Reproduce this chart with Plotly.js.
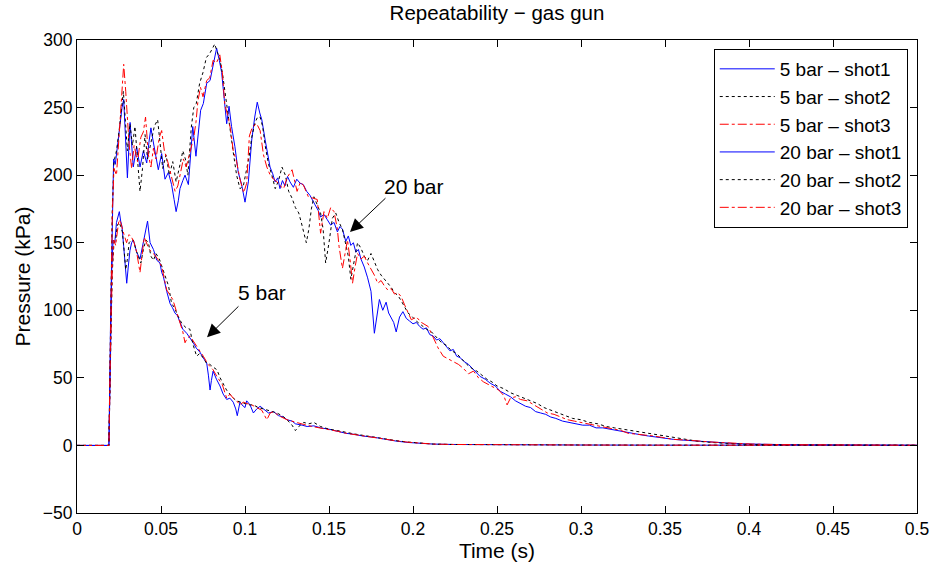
<!DOCTYPE html>
<html>
<head>
<meta charset="utf-8">
<script src="https://cdn.plot.ly/plotly-3.0.1.min.js"></script>
<style>html,body{margin:0;padding:0;background:#fff;}#chart{width:933px;height:564px;}</style>
</head>
<body>
<div id="chart"></div>
<script>
// Each series: [time (s), pressure (kPa)] points
const bar5_shot1 = [[0,0],[0.019,0],[0.020,70],[0.0207,130],[0.0215,152],[0.0225,150],[0.0235,165],[0.0245,170],[0.0252,173],[0.026,166],[0.0268,162],[0.0278,147],[0.0288,130],[0.0296,120],[0.0305,132],[0.0315,144],[0.0325,150],[0.0335,152],[0.0345,148],[0.0355,143],[0.0375,138],[0.0395,150],[0.0408,160],[0.042,166],[0.0435,150],[0.0455,145],[0.0475,137],[0.0494,135],[0.0504,128],[0.0514,125],[0.0534,114],[0.0554,105],[0.0568,102],[0.0583,98],[0.0598,96],[0.0613,91],[0.063,86],[0.0653,83],[0.067,80],[0.0692,76],[0.071,72],[0.0732,69],[0.075,65],[0.0772,61],[0.0782,52],[0.0792,41],[0.080,48],[0.081,55],[0.083,49],[0.0851,44],[0.087,38],[0.0891,34],[0.091,35],[0.093,32],[0.0945,27],[0.0954,22],[0.097,32],[0.0982,30],[0.100,28],[0.101,33],[0.103,30],[0.105,24],[0.107,27],[0.109,29],[0.111,27],[0.114,24],[0.117,25],[0.120,22],[0.123,21],[0.125,19],[0.128,18],[0.130,16],[0.134,15],[0.137,14],[0.141,14.5],[0.145,13],[0.150,12],[0.155,10.6],[0.160,9],[0.165,8.2],[0.170,7],[0.177,6],[0.184,4.4],[0.190,3.2],[0.197,2.2],[0.204,1.5],[0.212,1],[0.224,0.7],[0.240,0.5],[0.260,0.4],[0.300,0.3],[0.350,0.2],[0.400,0.2],[0.450,0.1],[0.500,0.1]];

const bar5_shot2 = [[0,0],[0.019,0],[0.020,68],[0.021,128],[0.022,150],[0.023,152],[0.024,163],[0.0252,165],[0.026,162],[0.027,158],[0.028,145],[0.029,130],[0.030,138],[0.031,150],[0.0325,152],[0.0335,152],[0.035,145],[0.0365,140],[0.038,135],[0.0395,145],[0.041,152],[0.0425,150],[0.044,140],[0.0455,137],[0.047,142],[0.049,138],[0.052,127],[0.0545,118],[0.0563,105],[0.058,102],[0.060,96],[0.0625,90],[0.065,87],[0.0672,86],[0.069,75],[0.0712,66],[0.073,68],[0.075,65],[0.077,61],[0.079,60],[0.081,58],[0.0833,56],[0.0852,50],[0.0871,45],[0.089,41],[0.091,38],[0.093,35],[0.095,33],[0.0975,32],[0.100,31],[0.1025,30],[0.105,30],[0.108,28],[0.111,27],[0.114,26],[0.117,25],[0.119,24],[0.122,22],[0.125,19],[0.128,15],[0.130,11],[0.132,14],[0.135,17],[0.138,16],[0.141,17],[0.145,14],[0.150,12],[0.155,11],[0.160,9.5],[0.165,8.5],[0.170,7.5],[0.177,6],[0.184,4.5],[0.190,3.5],[0.197,2.5],[0.204,1.6],[0.212,1],[0.224,0.7],[0.240,0.5],[0.260,0.4],[0.300,0.3],[0.350,0.2],[0.400,0.2],[0.450,0.1],[0.500,0.1]];

const bar5_shot3 = [[0,0],[0.019,0],[0.020,72],[0.021,132],[0.022,152],[0.023,148],[0.024,158],[0.025,167],[0.026,165],[0.027,160],[0.028,156],[0.0295,150],[0.031,156],[0.0325,154],[0.034,150],[0.0355,143],[0.0375,128],[0.040,154],[0.0415,150],[0.043,145],[0.0455,142],[0.048,138],[0.0505,132],[0.052,122],[0.0534,115],[0.055,112],[0.057,108],[0.059,100],[0.0613,91],[0.063,84],[0.0643,76],[0.0655,79],[0.0672,81],[0.070,76],[0.0752,66],[0.078,60],[0.081,56],[0.0833,51],[0.0865,45],[0.0891,35],[0.091,38],[0.093,35],[0.095,33],[0.097,30],[0.099,32],[0.101,31],[0.104,30],[0.107,28],[0.110,26],[0.113,19],[0.115,24],[0.117,25],[0.120,22],[0.125,19],[0.130,17],[0.135,15.5],[0.140,14],[0.145,13],[0.150,12],[0.155,10.5],[0.160,9],[0.165,8],[0.170,7],[0.177,6],[0.184,4.5],[0.190,3.4],[0.197,2.4],[0.204,1.6],[0.212,1],[0.224,0.7],[0.240,0.5],[0.260,0.4],[0.300,0.3],[0.350,0.2],[0.400,0.2],[0.450,0.1],[0.500,0.1]];

const bar20_shot1 = [[0,0],[0.019,0],[0.020,95],[0.021,180],[0.0218,212],[0.0228,208],[0.024,222],[0.0256,241],[0.0268,250],[0.0278,256],[0.029,225],[0.030,198],[0.0316,239],[0.0335,206],[0.0355,221],[0.0375,206],[0.0395,218],[0.0415,209],[0.0428,224],[0.044,235],[0.0452,226],[0.0464,218],[0.0484,204],[0.0504,216],[0.0524,197],[0.0544,202],[0.0563,193],[0.0578,182],[0.059,173],[0.0603,181],[0.0613,190],[0.063,196],[0.0643,200],[0.0663,193],[0.0678,218],[0.0689,236],[0.0708,214],[0.0722,229],[0.0736,248],[0.0752,253],[0.0762,262],[0.0772,268],[0.0792,270],[0.0811,283],[0.0831,294],[0.0847,285],[0.0861,276],[0.0875,258],[0.0891,238],[0.0905,251],[0.092,236],[0.094,221],[0.096,202],[0.098,193],[0.100,180],[0.102,195],[0.104,226],[0.1058,243],[0.1073,254],[0.1088,246],[0.110,241],[0.112,226],[0.1149,206],[0.1165,201],[0.1179,195],[0.1195,198],[0.1208,190],[0.1223,196],[0.1238,192],[0.1253,199],[0.1268,195],[0.1288,191],[0.1308,197],[0.1328,194],[0.1347,193],[0.1367,188],[0.1387,185],[0.1417,178],[0.1435,174],[0.145,169],[0.147,171],[0.149,167],[0.151,163],[0.153,165],[0.155,158],[0.1565,162],[0.158,160],[0.160,151],[0.1615,155],[0.163,148],[0.1645,150],[0.166,143],[0.1675,145],[0.169,138],[0.171,132],[0.173,124],[0.175,114],[0.177,83],[0.1785,96],[0.180,108],[0.182,100],[0.184,106],[0.1855,98],[0.187,95],[0.1885,91],[0.190,84],[0.192,95],[0.194,99],[0.196,94],[0.198,92],[0.200,90],[0.202,91],[0.204,88],[0.206,86],[0.208,87],[0.210,82],[0.212,81],[0.214,78],[0.216,79],[0.218,76],[0.220,73],[0.222,70],[0.224,71],[0.226,66],[0.228,65],[0.2305,62],[0.233,60],[0.2355,57],[0.238,54],[0.240,51],[0.243,49],[0.246,46],[0.249,44],[0.252,40],[0.255,38],[0.258,36],[0.261,33],[0.264,31],[0.267,29],[0.270,28],[0.273,25],[0.276,24],[0.279,23],[0.282,21],[0.285,20],[0.289,18],[0.293,17],[0.297,16],[0.301,15],[0.305,15],[0.309,13],[0.313,13],[0.317,12],[0.321,11],[0.325,10],[0.330,9],[0.335,8],[0.340,7],[0.345,6],[0.350,5],[0.355,4.5],[0.360,4],[0.365,3.5],[0.370,3],[0.375,2.5],[0.380,2],[0.385,1.8],[0.390,1.5],[0.395,1.2],[0.400,1],[0.410,0.8],[0.420,0.6],[0.430,0.5],[0.440,0.4],[0.450,0.3],[0.460,0.3],[0.470,0.2],[0.480,0.2],[0.490,0.1],[0.500,0.1]];

const bar20_shot2 = [[0,0],[0.019,0],[0.020,90],[0.021,175],[0.022,210],[0.0235,218],[0.025,232],[0.0265,248],[0.0276,262],[0.0288,240],[0.030,218],[0.0315,238],[0.033,222],[0.0345,236],[0.036,215],[0.0375,188],[0.039,205],[0.0405,230],[0.042,212],[0.044,225],[0.046,236],[0.048,241],[0.0495,220],[0.051,205],[0.053,215],[0.055,200],[0.057,210],[0.059,195],[0.061,206],[0.063,218],[0.0645,212],[0.066,200],[0.068,235],[0.0695,250],[0.071,253],[0.073,268],[0.075,276],[0.077,287],[0.079,290],[0.0805,294],[0.082,297],[0.0835,291],[0.085,286],[0.0865,276],[0.088,262],[0.0895,248],[0.091,233],[0.093,217],[0.095,200],[0.097,190],[0.099,192],[0.101,205],[0.1025,214],[0.104,228],[0.106,239],[0.1075,243],[0.109,243],[0.1105,236],[0.112,222],[0.114,208],[0.116,200],[0.118,190],[0.120,196],[0.122,206],[0.124,200],[0.126,188],[0.128,183],[0.130,176],[0.132,172],[0.1335,165],[0.135,158],[0.1365,150],[0.138,160],[0.1395,175],[0.141,184],[0.143,178],[0.145,172],[0.1465,160],[0.148,135],[0.150,150],[0.152,168],[0.154,172],[0.156,165],[0.158,160],[0.160,148],[0.1615,140],[0.163,123],[0.165,138],[0.167,150],[0.169,146],[0.171,140],[0.173,137],[0.175,142],[0.177,136],[0.179,130],[0.181,126],[0.183,123],[0.185,120],[0.187,117],[0.189,113],[0.191,111],[0.193,107],[0.195,102],[0.197,98],[0.199,96],[0.202,92],[0.205,89],[0.208,86],[0.211,84],[0.214,80],[0.217,76],[0.220,74],[0.223,70],[0.226,68],[0.229,64],[0.232,60],[0.235,57],[0.238,55],[0.241,52],[0.244,49],[0.247,47],[0.250,44],[0.254,42],[0.258,39],[0.262,37],[0.266,35],[0.270,33],[0.274,31],[0.278,28],[0.282,26],[0.286,24],[0.290,22],[0.295,20],[0.300,19],[0.305,17],[0.310,16],[0.315,14],[0.320,13],[0.325,12],[0.330,11],[0.335,10],[0.340,9],[0.345,8],[0.350,7],[0.355,6],[0.360,5],[0.365,4],[0.370,3],[0.380,2],[0.390,1.2],[0.400,0.7],[0.420,0.4],[0.440,0.3],[0.460,0.2],[0.480,0.2],[0.500,0.1]];

const bar20_shot3 = [[0,0],[0.019,0],[0.020,85],[0.021,170],[0.022,205],[0.0235,200],[0.025,228],[0.0265,255],[0.0278,282],[0.029,262],[0.031,223],[0.0325,205],[0.034,222],[0.036,210],[0.038,228],[0.0395,232],[0.0408,243],[0.0425,215],[0.044,206],[0.0455,220],[0.047,212],[0.049,228],[0.0504,233],[0.052,218],[0.054,210],[0.056,200],[0.0584,188],[0.060,192],[0.062,205],[0.0633,212],[0.065,206],[0.067,215],[0.0695,228],[0.0708,239],[0.072,255],[0.0735,265],[0.075,258],[0.0772,270],[0.079,272],[0.081,285],[0.083,283],[0.085,289],[0.0865,276],[0.088,252],[0.090,243],[0.0915,233],[0.093,218],[0.095,210],[0.097,197],[0.0992,187],[0.101,194],[0.1026,229],[0.1045,236],[0.107,238],[0.109,233],[0.111,215],[0.113,206],[0.115,200],[0.117,197],[0.119,195],[0.121,192],[0.123,190],[0.125,198],[0.128,204],[0.131,188],[0.133,195],[0.135,192],[0.1377,184],[0.140,183],[0.143,182],[0.145,157],[0.147,173],[0.149,168],[0.151,176],[0.153,173],[0.155,160],[0.156,147],[0.158,131],[0.160,145],[0.161,152],[0.1625,138],[0.164,120],[0.1655,132],[0.167,142],[0.169,138],[0.171,140],[0.173,135],[0.175,131],[0.177,126],[0.179,120],[0.181,122],[0.183,118],[0.185,115],[0.187,116],[0.189,112],[0.191,113],[0.193,110],[0.195,104],[0.197,98],[0.199,93],[0.202,95],[0.205,91],[0.209,88],[0.212,80],[0.215,72],[0.218,66],[0.221,64],[0.224,62],[0.227,60],[0.230,57],[0.233,53],[0.236,55],[0.239,50],[0.242,47],[0.245,45],[0.248,43],[0.251,41],[0.254,37],[0.256,30],[0.258,35],[0.261,36],[0.264,34],[0.268,33],[0.272,30],[0.276,27],[0.280,24],[0.284,23],[0.288,21],[0.292,19],[0.296,18],[0.300,17],[0.304,16],[0.308,15],[0.312,14],[0.316,13],[0.320,12],[0.324,11],[0.328,9],[0.333,8.5],[0.338,8],[0.343,7],[0.348,6],[0.355,4.5],[0.362,4],[0.370,3],[0.378,2.5],[0.386,2],[0.394,1.5],[0.402,1],[0.420,0.6],[0.440,0.4],[0.460,0.3],[0.480,0.2],[0.500,0.1]];

const seriesNames = ['5 bar \u2013 shot1','5 bar \u2013 shot2','5 bar \u2013 shot3','20 bar \u2013 shot1','20 bar \u2013 shot2','20 bar \u2013 shot3'];
const seriesData = [bar5_shot1, bar5_shot2, bar5_shot3, bar20_shot1, bar20_shot2, bar20_shot3];
const seriesColors = ['#0000ff','#000000','#ff0000','#0000ff','#000000','#ff0000'];
const seriesDash = ['solid','dot','dashdot','solid','dot','dashdot'];

// Annotation labels: [text, text x, text y, arrow tail x, arrow tail y, arrow head x, arrow head y]
const labels = [
  ['20 bar', 0.2005, 191.5, 0.1845, 184, 0.1625, 158],
  ['5 bar', 0.1100, 113, 0.0970, 104, 0.0774, 80]
];

const FONT = 'Liberation Sans, Arial, Helvetica, sans-serif';

const traces = seriesData.map((d, i) => ({
  type: 'scatter', mode: 'lines',
  x: d.map(p => p[0]), y: d.map(p => p[1]),
  name: seriesNames[i],
  line: {color: seriesColors[i], width: 1, dash: seriesDash[i]}
}));

const annotations = [];
labels.forEach(l => {
  annotations.push({x: l[1], y: l[2], xref: 'x', yref: 'y', text: l[0], showarrow: false,
    font: {family: FONT, size: 21, color: '#000'}});
  annotations.push({x: l[5], y: l[6], ax: l[3], ay: l[4], xref: 'x', yref: 'y', axref: 'x', ayref: 'y',
    text: '', showarrow: true, arrowhead: 2, arrowsize: 2.6, arrowwidth: 1, arrowcolor: '#000', standoff: 0});
});

const axisCommon = {
  showline: true, linecolor: '#000', linewidth: 1, mirror: 'ticks',
  ticks: 'inside', ticklen: 7, tickcolor: '#000', tickwidth: 1,
  showgrid: false, zeroline: false,
  tickfont: {family: FONT, size: 17.5, color: '#000'}
};

const layout = {
  width: 933, height: 564,
  margin: {l: 77, r: 16, t: 40, b: 51},
  paper_bgcolor: '#fff', plot_bgcolor: '#fff',
  font: {family: FONT, color: '#000'},
  title: {text: 'Repeatability \u2212 gas gun', font: {family: FONT, size: 20.5, color: '#000'},
          x: 0.5, xref: 'paper', y: 0.977, yref: 'container', yanchor: 'middle'},
  xaxis: Object.assign({}, axisCommon, {range: [0, 0.5], dtick: 0.05, tick0: 0,
    title: {text: 'Time (s)', font: {family: FONT, size: 21, color: '#000'}, standoff: 2}}),
  yaxis: Object.assign({}, axisCommon, {range: [-50, 300], dtick: 50, tick0: 0,
    title: {text: 'Pressure (kPa)', font: {family: FONT, size: 21, color: '#000'}, standoff: 6}}),
  showlegend: true,
  legend: {x: 0.989, xanchor: 'right', y: 0.981, yanchor: 'top', bgcolor: '#fff',
    bordercolor: '#000', borderwidth: 1, font: {family: FONT, size: 19, color: '#000'},
    itemwidth: 55, tracegroupgap: 0},
  annotations: annotations
};

Plotly.newPlot('chart', traces, layout, {displayModeBar: false, staticPlot: true});
</script>
</body>
</html>
